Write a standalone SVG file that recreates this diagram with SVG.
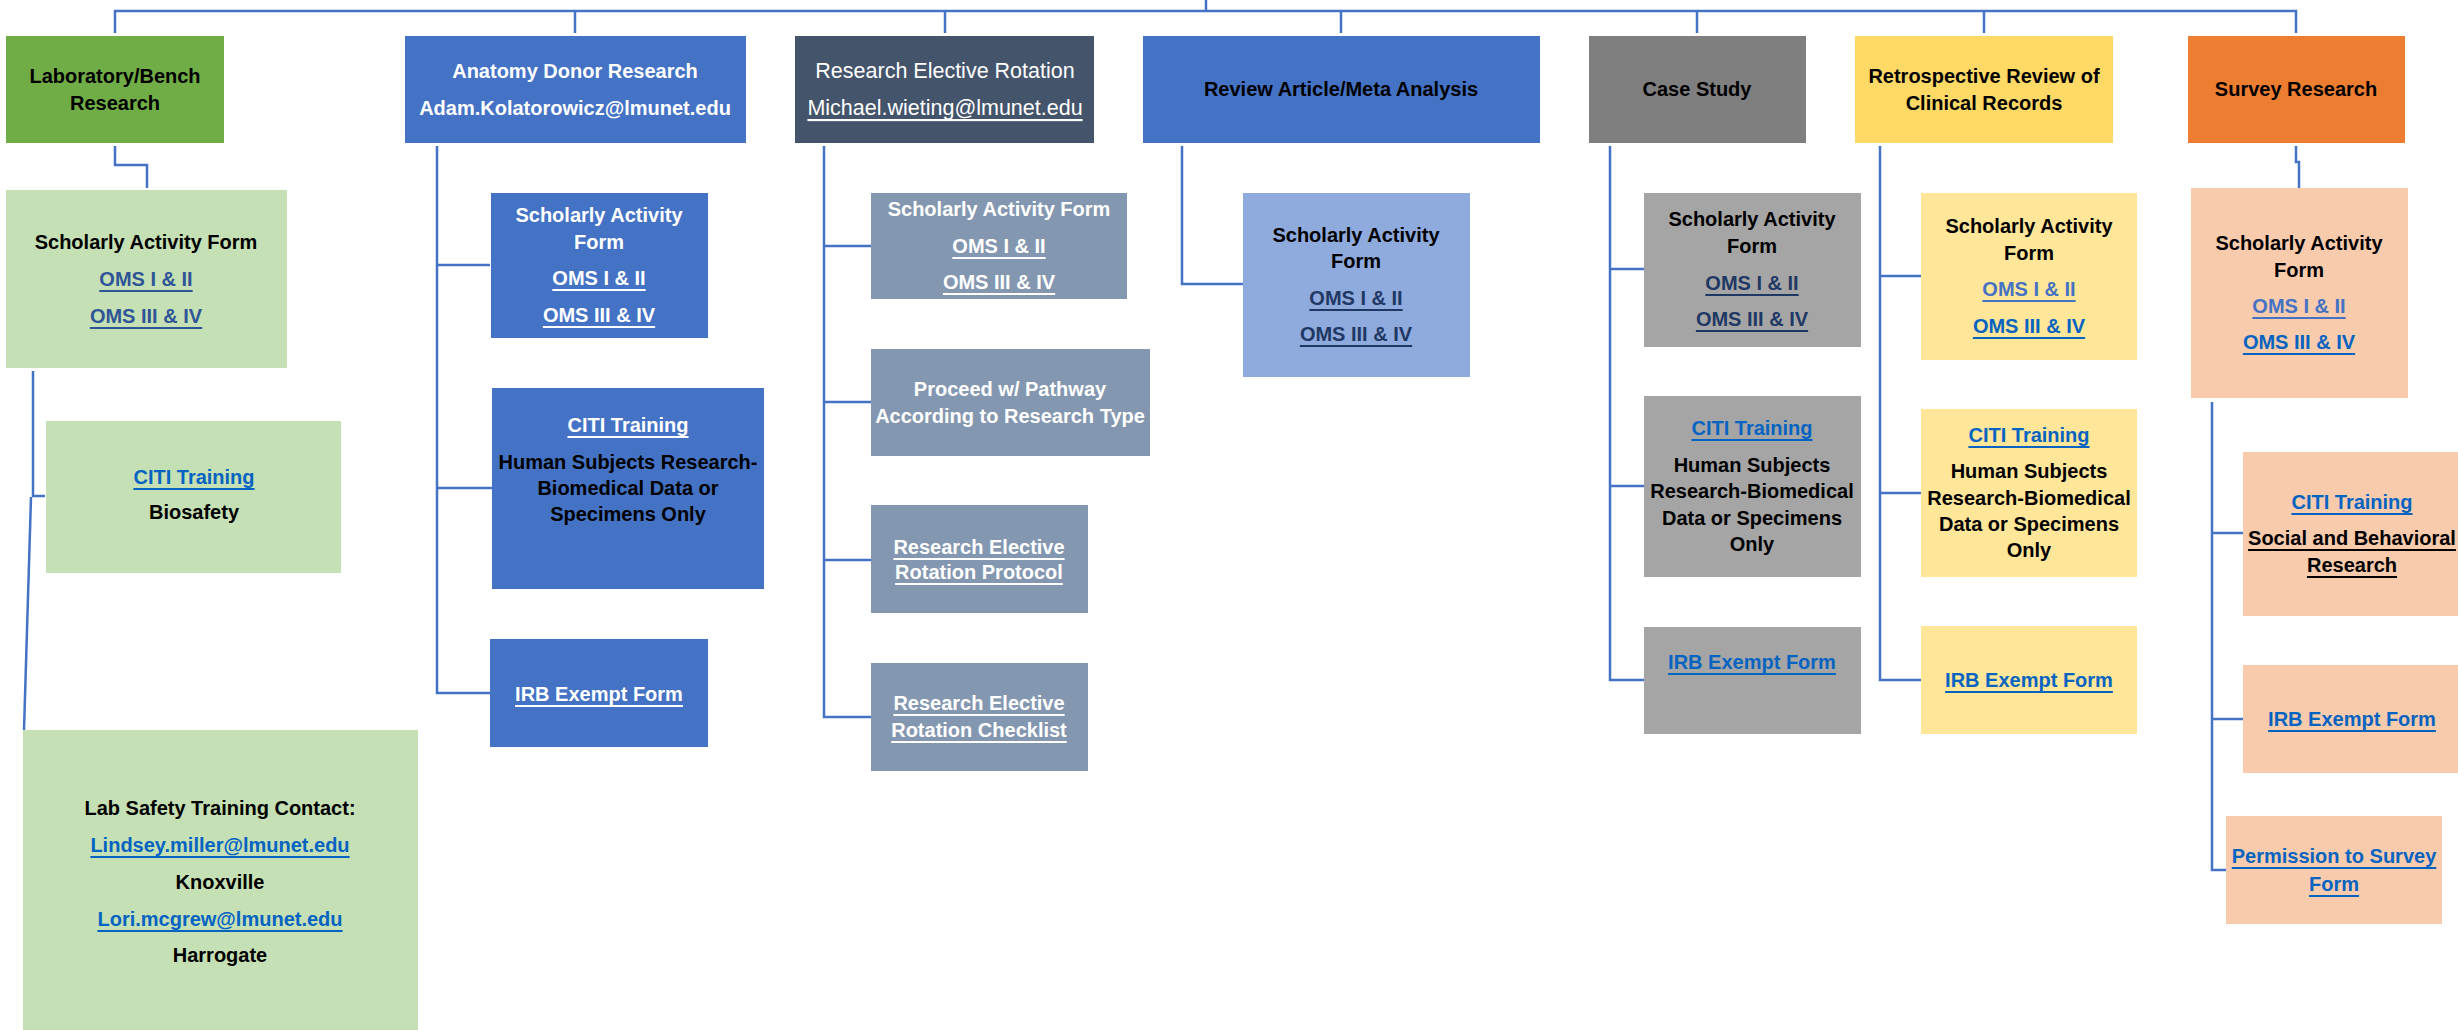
<svg xmlns="http://www.w3.org/2000/svg" width="2458" height="1030" viewBox="0 0 2458 1030">
<style>
text{font-family:"Liberation Sans",Arial,sans-serif;font-size:20px;font-weight:bold;text-anchor:middle;dominant-baseline:central;fill:#000}
.r{font-weight:normal;font-size:21.5px}
.u{text-decoration:underline}
.w{fill:#fff}
.lb{fill:#0563C1}
.nv{fill:#1F3864}
.db{fill:#2F5597}
.mb{fill:#4472C4}
.c path{fill:none;stroke:#4472C4;stroke-width:2.5}
</style>
<rect width="2458" height="1030" fill="#fff"/>
<g class="c" id="connectors">
<path d="M115,33 V11 H2296 V33"/>
<path d="M1206,0 V11"/>
<path d="M575,11 V33"/><path d="M945,11 V33"/><path d="M1341,11 V33"/><path d="M1697,11 V33"/><path d="M1984,11 V33"/>
<path d="M115,146 V165 H147 V188"/>
<path d="M33,371 V496 H45"/>
<path d="M31,497 L24,730"/>
<path d="M437,146 V693 H490"/><path d="M437,265 H490"/><path d="M437,488 H492"/>
<path d="M824,146 V717 H871"/><path d="M824,246 H871"/><path d="M824,402 H871"/><path d="M824,560 H871"/>
<path d="M1182,146 V284 H1243"/>
<path d="M1610,146 V680 H1644"/><path d="M1610,269 H1644"/><path d="M1610,486 H1644"/>
<path d="M1880,146 V680 H1921"/><path d="M1880,276 H1921"/><path d="M1880,493 H1921"/>
<path d="M2296,146 V162 H2299 V188"/>
<path d="M2212,402 V870 H2226"/><path d="M2212,533 H2243"/><path d="M2212,719 H2243"/>
</g>

<g id="lab">
<rect x="6" y="36" width="218" height="107" fill="#70AD47"/>
<text x="115" y="76">Laboratory/Bench</text>
<text x="115" y="103">Research</text>
</g>
<g id="lab-form">
<rect x="6" y="190" width="281" height="178" fill="#C5E0B4"/>
<text x="146" y="242">Scholarly Activity Form</text>
<text x="146" y="279" class="u db">OMS I &amp; II</text>
<text x="146" y="316" class="u db">OMS III &amp; IV</text>
</g>
<g id="lab-citi">
<rect x="46" y="421" width="295" height="152" fill="#C5E0B4"/>
<text x="194" y="477" class="u lb">CITI Training</text>
<text x="194" y="512">Biosafety</text>
</g>
<g id="lab-safety">
<rect x="23" y="730" width="395" height="300" fill="#C5E0B4"/>
<text x="220" y="808">Lab Safety Training Contact:</text>
<text x="220" y="845" class="u lb">Lindsey.miller@lmunet.edu</text>
<text x="220" y="882">Knoxville</text>
<text x="220" y="919" class="u lb">Lori.mcgrew@lmunet.edu</text>
<text x="220" y="955">Harrogate</text>
</g>

<g id="anatomy">
<rect x="405" y="36" width="341" height="107" fill="#4472C4"/>
<text x="575" y="71" class="w">Anatomy Donor Research</text>
<text x="575" y="108" class="w">Adam.Kolatorowicz@lmunet.edu</text>
</g>
<g id="anatomy-form">
<rect x="491" y="193" width="217" height="145" fill="#4472C4"/>
<text x="599" y="215" class="w">Scholarly Activity</text>
<text x="599" y="242" class="w">Form</text>
<text x="599" y="278" class="w u">OMS I &amp; II</text>
<text x="599" y="315" class="w u">OMS III &amp; IV</text>
</g>
<g id="anatomy-citi">
<rect x="492" y="388" width="272" height="201" fill="#4472C4"/>
<text x="628" y="425" class="w u">CITI Training</text>
<text x="628" y="462">Human Subjects Research-</text>
<text x="628" y="488">Biomedical Data or</text>
<text x="628" y="514">Specimens Only</text>
</g>
<g id="anatomy-irb">
<rect x="490" y="639" width="218" height="108" fill="#4472C4"/>
<text x="599" y="694" class="w u">IRB Exempt Form</text>
</g>

<g id="elective">
<rect x="795" y="36" width="299" height="107" fill="#44546A"/>
<text x="945" y="71" class="w r">Research Elective Rotation</text>
<text x="945" y="108" class="w r u">Michael.wieting@lmunet.edu</text>
</g>
<g id="elective-form">
<rect x="871" y="193" width="256" height="106" fill="#8497B0"/>
<text x="999" y="209" class="w">Scholarly Activity Form</text>
<text x="999" y="246" class="w u">OMS I &amp; II</text>
<text x="999" y="282" class="w u">OMS III &amp; IV</text>
</g>
<g id="elective-proceed">
<rect x="871" y="349" width="279" height="107" fill="#8497B0"/>
<text x="1010" y="389" class="w">Proceed w/ Pathway</text>
<text x="1010" y="416" class="w">According to Research Type</text>
</g>
<g id="elective-protocol">
<rect x="871" y="505" width="217" height="108" fill="#8497B0"/>
<text x="979" y="547" class="w u">Research Elective</text>
<text x="979" y="572" class="w u">Rotation Protocol</text>
</g>
<g id="elective-checklist">
<rect x="871" y="663" width="217" height="108" fill="#8497B0"/>
<text x="979" y="703" class="w u">Research Elective</text>
<text x="979" y="730" class="w u">Rotation Checklist</text>
</g>

<g id="review">
<rect x="1143" y="36" width="397" height="107" fill="#4472C4"/>
<text x="1341" y="89">Review Article/Meta Analysis</text>
</g>
<g id="review-form">
<rect x="1243" y="193" width="227" height="184" fill="#8FAADC"/>
<text x="1356" y="235">Scholarly Activity</text>
<text x="1356" y="261">Form</text>
<text x="1356" y="298" class="u nv">OMS I &amp; II</text>
<text x="1356" y="334" class="u nv">OMS III &amp; IV</text>
</g>

<g id="case">
<rect x="1589" y="36" width="217" height="107" fill="#7F7F7F"/>
<text x="1697" y="89">Case Study</text>
</g>
<g id="case-form">
<rect x="1644" y="193" width="217" height="154" fill="#A5A5A5"/>
<text x="1752" y="219">Scholarly Activity</text>
<text x="1752" y="246">Form</text>
<text x="1752" y="283" class="u nv">OMS I &amp; II</text>
<text x="1752" y="319" class="u nv">OMS III &amp; IV</text>
</g>
<g id="case-citi">
<rect x="1644" y="396" width="217" height="181" fill="#A5A5A5"/>
<text x="1752" y="428" class="u lb">CITI Training</text>
<text x="1752" y="465">Human Subjects</text>
<text x="1752" y="491">Research-Biomedical</text>
<text x="1752" y="518">Data or Specimens</text>
<text x="1752" y="544">Only</text>
</g>
<g id="case-irb">
<rect x="1644" y="627" width="217" height="107" fill="#A5A5A5"/>
<text x="1752" y="662" class="u lb">IRB Exempt Form</text>
</g>

<g id="retro">
<rect x="1855" y="36" width="258" height="107" fill="#FFD966"/>
<text x="1984" y="76">Retrospective Review of</text>
<text x="1984" y="103">Clinical Records</text>
</g>
<g id="retro-form">
<rect x="1921" y="193" width="216" height="167" fill="#FFE699"/>
<text x="2029" y="226">Scholarly Activity</text>
<text x="2029" y="253">Form</text>
<text x="2029" y="289" class="u mb">OMS I &amp; II</text>
<text x="2029" y="326" class="u lb">OMS III &amp; IV</text>
</g>
<g id="retro-citi">
<rect x="1921" y="409" width="216" height="168" fill="#FFE699"/>
<text x="2029" y="435" class="u lb">CITI Training</text>
<text x="2029" y="471">Human Subjects</text>
<text x="2029" y="498">Research-Biomedical</text>
<text x="2029" y="524">Data or Specimens</text>
<text x="2029" y="550">Only</text>
</g>
<g id="retro-irb">
<rect x="1921" y="626" width="216" height="108" fill="#FFE699"/>
<text x="2029" y="680" class="u lb">IRB Exempt Form</text>
</g>

<g id="survey">
<rect x="2188" y="36" width="217" height="107" fill="#ED7D31"/>
<text x="2296" y="89">Survey Research</text>
</g>
<g id="survey-form">
<rect x="2191" y="188" width="217" height="210" fill="#F8CBAD"/>
<text x="2299" y="243">Scholarly Activity</text>
<text x="2299" y="270">Form</text>
<text x="2299" y="306" class="u mb">OMS I &amp; II</text>
<text x="2299" y="342" class="u lb">OMS III &amp; IV</text>
</g>
<g id="survey-citi">
<rect x="2243" y="452" width="218" height="164" fill="#F8CBAD"/>
<text x="2352" y="502" class="u lb">CITI Training</text>
<text x="2352" y="538" class="u">Social and Behavioral</text>
<text x="2352" y="565" class="u">Research</text>
</g>
<g id="survey-irb">
<rect x="2243" y="665" width="218" height="108" fill="#F8CBAD"/>
<text x="2352" y="719" class="u lb">IRB Exempt Form</text>
</g>
<g id="survey-permission">
<rect x="2226" y="816" width="216" height="108" fill="#F8CBAD"/>
<text x="2334" y="856" class="u lb">Permission to Survey</text>
<text x="2334" y="884" class="u lb">Form</text>
</g>
</svg>
